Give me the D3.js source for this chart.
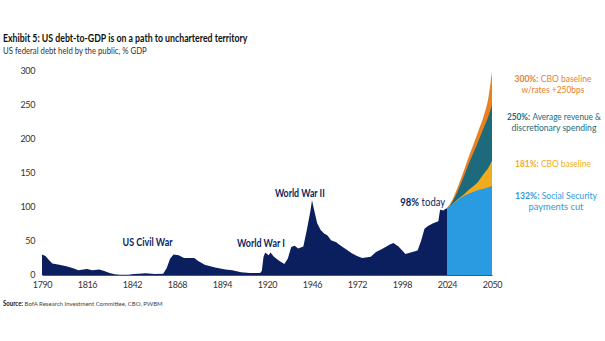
<!DOCTYPE html>
<meta charset="utf-8">
<style>
body {
  margin: 0;
  background: #fff;
  font-family: Lato, "Open Sans", sans-serif;
}
.tick text {
  font-family: Lato, sans-serif;
  font-size: 9px;
  fill: #333;
  letter-spacing: -0.4px;
}
</style>
<body>
<svg width="605" height="341"></svg>
<script src="https://d3js.org/d3.v7.min.js"></script>
<script>
// historical debt held by the public, % GDP
var histYears = [1790,1792,1794,1796,1800,1804,1808,1811,1814,1816,1819,1823,1826,1829,1832,1835,1840,1843,1846,1850,1855,1860,
  1862,1864,1866,1869,1872,1878,1880,1884,1890,1896,1900,1905,1910,1916,1917,1918,1919,1920,1921,1922,1924,1927,1930,1932,
  1934,1936,1938,1941,1943,1945,1946,1947,1949,1951,1953,1955,1957,1960,1962,1965,1969,1972,1975,1980,1983,1987,1991,1993,
  1996,2000,2003,2007,2009,2011,2013,2016,2019,2020,2022,2023,2024];
var histDebt = [30,28,22,17,15,13,10,7,8,9,7,8,6,3,1,0.3,0.5,1.5,2,2.5,1.5,2,
  10,24,30,29,25,25,21,15,11,8,7,4,3,3,6,27,33,31,29,33,27,21,16,24,
  41,43,39,42,66,93,110,98,76,66,61,58,51,48,44,39,32,28,25,27,34,39,45,47,
  42,31,33,36,50,68,72,76,79,96,95,97,98];

// projections 2024-2050
var projYears = [2024,2027,2030,2033,2036,2039,2042,2045,2048,2050];
var ratesUp   = [98,110,128,148,170,190,211,232,262,300];   // CBO baseline w/rates +250bps
var avgRev    = [98,107,122,140,160,178,196,215,234,250];   // average revenue & discretionary spending
var cboBase   = [98,104,111,117,124,130,137,148,158,168];   // CBO baseline
var ssCut     = [98,104,110,115,119,122,125,127,129,131];   // Social Security payments cut

var xTicks = [1790,1816,1842,1868,1894,1920,1946,1972,1998,2024,2050];
var yTicks = [0,50,100,150,200,250,300];

var navy = "#0b1f5f", orange = "#e8811f", teal = "#1c6a7c", gold = "#f0ac1c", sky = "#2a9be0";

var svg = d3.select("svg");

var x = d3.scaleLinear().domain([1790, 2050]).range([42, 492]);
var y = d3.scaleLinear().domain([0, 300]).range([275, 71]);

var area = d3.area()
    .x(function(d) { return x(d[0]); })
    .y0(y(0))
    .y1(function(d) { return y(d[1]); })
    .curve(d3.curveMonotoneX);

function pairs(xs, vs) { return xs.map(function(v, i) { return [v, vs[i]]; }); }

var series = [
  {vals: ratesUp, color: orange},
  {vals: avgRev, color: teal},
  {vals: cboBase, color: gold},
  {vals: ssCut, color: sky}
];
series.forEach(function(s) {
  svg.append("path")
    .attr("d", area(pairs(projYears, s.vals)))
    .attr("fill", s.color);
});

svg.append("path")
  .attr("d", area.curve(d3.curveLinear)(pairs(histYears, histDebt)))
  .attr("fill", navy);

// axes
var gx = svg.append("g")
    .attr("transform", "translate(0," + y(0) + ")")
    .call(d3.axisBottom(x).tickValues(xTicks).tickFormat(d3.format("d")).tickSize(0).tickPadding(7));
gx.select(".domain").attr("stroke", "#1a2a5a").attr("stroke-width", 0.8);

var gy = svg.append("g")
    .attr("transform", "translate(36,0)")
    .call(d3.axisLeft(y).tickValues(yTicks).tickSize(0).tickPadding(1));
gy.select(".domain").remove();

// text helper: parts = [[text, weight, color]], squeezed to width w
function label(px, py, parts, size, w, anchor) {
  var g = svg.append("g");
  var inner = g.append("g");
  var cx = 0;
  parts.forEach(function(p, i) {
    if (i > 0) cx += size * 0.26;
    var el = inner.append("text")
      .attr("x", cx).attr("y", 0)
      .attr("font-size", size)
      .attr("font-weight", p[1])
      .attr("fill", p[2])
      .text(p[0]);
    cx += el.node().getComputedTextLength();
  });
  var sx = w ? w / cx : 1;
  var tw = cx * sx;
  var off = anchor === "middle" ? -tw / 2 : anchor === "end" ? -tw : 0;
  g.attr("transform", "translate(" + (px + off) + "," + py + ")");
  inner.attr("transform", "scale(" + sx + ",1)");
}

label(3, 42, [["Exhibit 5: US debt-to-GDP is on a path to unchartered territory", 700, "#111"]], 10.5, 245);
label(3, 54, [["US federal debt held by the public, % GDP", 400, "#333"]], 9.5, 144);
label(3, 306, [["Source:", 700, "#111"], ["BofA Research Investment Committee, CBO, PWBM", 400, "#444"]], 6.5, 160);

// chart annotations
label(x(1851), y(43), [["US Civil War", 700, navy]], 12, 50, "middle");
label(x(1916.5), y(41), [["World War I", 700, navy]], 12, 48, "middle");
label(x(1939), y(114), [["World War II", 700, navy]], 12, 50, "middle");
label(x(2023), y(101), [["98%", 700, navy], ["today", 400, navy]], 11, 45, "end");

// scenario labels
label(553, 82, [["300%:", 700, orange], ["CBO baseline", 400, orange]], 10, 77, "middle");
label(553, 93, [["w/rates +250bps", 400, orange]], 10, 63, "middle");
label(554, 120, [["250%:", 700, teal], ["Average revenue &", 400, teal]], 10, 94, "middle");
label(554, 131, [["discretionary spending", 400, teal]], 10, 85, "middle");
label(553, 167, [["181%:", 700, gold], ["CBO baseline", 400, gold]], 10, 76, "middle");
label(556, 199, [["132%:", 700, sky], ["Social Security", 400, sky]], 10, 82, "middle");
label(556, 210, [["payments cut", 400, sky]], 10, 55, "middle");
</script>
</body>
